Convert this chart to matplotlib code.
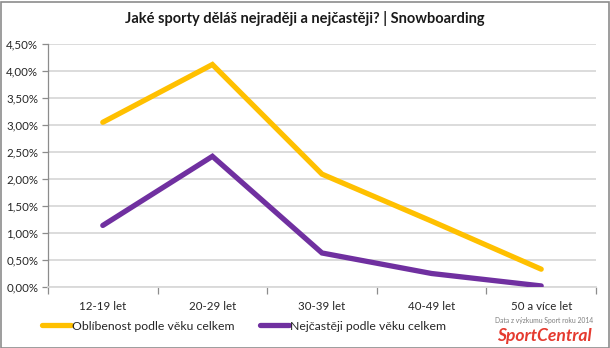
import matplotlib.pyplot as plt
from matplotlib.ticker import FixedLocator, FuncFormatter

plt.rcParams["font.family"] = ["Lato", "DejaVu Sans"]

age_groups = ["12-19 let", "20-29 let", "30-39 let", "40-49 let", "50 a více let"]
popularity = [3.05, 4.12, 2.09, 1.22, 0.33]
frequency = [1.14, 2.42, 0.63, 0.25, 0.02]
series_names = ["Oblíbenost podle věku celkem", "Nejčastěji podle věku celkem"]

W, H = 610, 348
fig = plt.figure(figsize=(W / 100, H / 100), dpi=100)
fig.patch.set_facecolor("white")

# thin grey frame round the whole chart
fig.add_artist(plt.Rectangle((0.5 / W, 0.5 / H), 1 - 2 / W, 1 - 2 / H,
                             transform=fig.transFigure, fill=False,
                             edgecolor="#8c8c8c", linewidth=1.2))

ax = fig.add_axes([48 / W, 1 - 287 / H, (596 - 48) / W, (287 - 44) / H])

x = [i + 0.5 for i in range(len(age_groups))]
ax.plot(x, popularity, color="#FFC000", linewidth=3.8, solid_capstyle="round",
        solid_joinstyle="miter", label=series_names[0], zorder=3)
ax.plot(x, frequency, color="#7030A0", linewidth=3.8, solid_capstyle="round",
        solid_joinstyle="miter", label=series_names[1], zorder=3)

ax.set_xlim(0, len(age_groups))
ax.set_ylim(0, 4.5)

yticks = [i * 0.5 for i in range(10)]
ax.set_yticks(yticks)
ax.yaxis.set_major_formatter(FuncFormatter(lambda v, p: f"{v:.2f}%".replace(".", ",")))
ax.grid(axis="y", color="#d9d9d9", linewidth=1.3, zorder=0)

ax.xaxis.set_major_locator(FixedLocator(range(len(age_groups) + 1)))
ax.xaxis.set_major_formatter(FuncFormatter(lambda v, p: ""))
ax.xaxis.set_minor_locator(FixedLocator(x))
ax.set_xticklabels(age_groups, minor=True)

ax.tick_params(axis="x", which="major", length=5, color="#8c8c8c", width=0.9)
ax.tick_params(axis="x", which="minor", length=0, pad=10, labelsize=8.3, labelcolor="#262626")
ax.tick_params(axis="y", length=4, color="#8c8c8c", width=0.9, pad=3,
               labelsize=8.3, labelcolor="#262626")

for side in ["top", "right"]:
    ax.spines[side].set_visible(False)
ax.spines["left"].set_color("#8c8c8c")
ax.spines["left"].set_linewidth(0.9)
ax.spines["bottom"].set_color("#d9d9d9")
ax.spines["bottom"].set_linewidth(1.3)

fig.text(0.5, 1 - 19 / H, "Jaké sporty děláš nejraději a nejčastěji? | Snowboarding",
         ha="center", va="center", fontsize=10.5, fontweight="bold", color="#1a1a1a")

fig.legend(loc="center left", bbox_to_anchor=(37 / W, 1 - 326 / H), ncol=2,
           frameon=False, fontsize=8.8, handlelength=2.4, handletextpad=0.05,
           columnspacing=2.1, borderaxespad=0, labelcolor="#262626")

fig.text(544 / W, 1 - 320 / H, "Data z výzkumu Sport roku 2014", ha="center",
         va="center", fontsize=4.9, color="#7f7f7f")
fig.text(544 / W, 1 - 336 / H, "SportCentral", ha="center", va="center",
         fontsize=12.6, fontweight="bold", fontstyle="italic", color="#e53a2f")

fig.savefig("out.png", dpi=100, facecolor="white")
